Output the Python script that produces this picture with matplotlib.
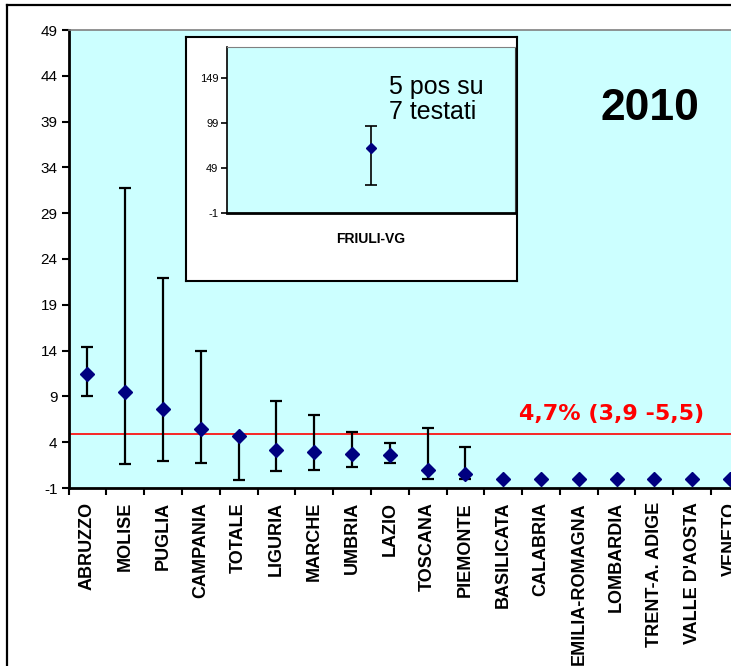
import matplotlib
matplotlib.use('Agg')
import matplotlib.pyplot as plt
from matplotlib.lines import Line2D

plt.rcParams['font.family'] = ['Liberation Sans', 'DejaVu Sans']
plt.rcParams['axes.unicode_minus'] = False

# data
regions = ['ABRUZZO', 'MOLISE', 'PUGLIA', 'CAMPANIA', 'TOTALE', 'LIGURIA',
           'MARCHE', 'UMBRIA', 'LAZIO', 'TOSCANA', 'PIEMONTE', 'BASILICATA',
           'CALABRIA', 'EMILIA-ROMAGNA', 'LOMBARDIA', 'TRENT-A. ADIGE',
           "VALLE D'AOSTA", 'VENETO']
prev = [11.5, 9.5, 7.6, 5.4, 4.7, 3.2, 2.9, 2.7, 2.6, 1.0, 0.5,
        0, 0, 0, 0, 0, 0, 0]
ci_low = [9.0, 1.6, 2.0, 1.7, -0.1, 0.9, 1.0, 1.3, 1.7, 0.0, 0.0,
          0, 0, 0, 0, 0, 0, 0]
ci_high = [14.4, 31.8, 21.9, 14.0, 4.7, 8.5, 7.0, 5.1, 3.9, 5.6, 3.5,
           0, 0, 0, 0, 0, 0, 0]
y_ticks = [-1, 4, 9, 14, 19, 24, 29, 34, 39, 44, 49]
total_line = 4.85
total_label = '4,7% (3,9 -5,5)'

inset_region = ['FRIULI-VG']
inset_prev = [71.4]
inset_low = [29.8]
inset_high = [95.0]
inset_ticks = [-1, 49, 99, 149]

W, H = 731, 666
BG = '#CCFFFF'
NAVY = '#000080'


def px(x, y):
    return x / W, 1 - y / H


def rect(x0, y0, x1, y1):
    return [x0 / W, 1 - y1 / H, (x1 - x0) / W, (y1 - y0) / H]


fig = plt.figure(figsize=(W / 100, H / 100), dpi=100)

# outer frame (cut on right and bottom)
fig.add_artist(Line2D([7 / W, 1], [1 - 5 / H] * 2, color='black', lw=1.6,
                      transform=fig.transFigure))
fig.add_artist(Line2D([7 / W] * 2, [0, 1 - 5 / H], color='black', lw=1.6,
                      transform=fig.transFigure))

n_vis = len(regions)
step = 37.8
ax = fig.add_axes(rect(68.5, 30, 68.5 + step * n_vis, 488))
ax.set_facecolor(BG)
xs = list(range(len(regions)))

idx = [i for i in xs if ci_high[i] > ci_low[i]]
ax.errorbar([xs[i] for i in idx], [prev[i] for i in idx],
            yerr=[[prev[i] - ci_low[i] for i in idx],
                  [ci_high[i] - prev[i] for i in idx]],
            fmt='none', ecolor='black', elinewidth=1.6, capsize=4,
            capthick=1.6, zorder=3)
ax.plot(xs, prev, linestyle='none', marker='D', markersize=7,
        color=NAVY, zorder=4)
ax.axhline(total_line, color='red', lw=1.2, zorder=2)

ax.set_xlim(-0.5, n_vis - 0.5)
ax.set_ylim(-1, 49)
ax.set_yticks(y_ticks)
ax.set_xticks([i + 0.5 for i in range(-1, n_vis)], minor=False)
ax.set_xticklabels([])
ax.set_xticks(xs, minor=True)
ax.set_xticklabels(regions, minor=True, rotation=90, fontweight='bold',
                   fontsize=13)
ax.tick_params(axis='x', which='minor', length=0, pad=10)
ax.tick_params(axis='x', which='major', length=5, width=1.5, direction='out')
ax.tick_params(axis='y', length=5, width=1.5, labelsize=11, pad=3)
for s in ['left', 'bottom']:
    ax.spines[s].set_linewidth(2)
ax.spines['top'].set_color('#808080')
ax.spines['top'].set_linewidth(1.2)
ax.spines['right'].set_visible(False)

fig.text(*px(612, 414), total_label, color='red', fontsize=16,
         fontweight='bold', family='DejaVu Sans', ha='center', va='center')
fig.text(*px(650, 108), '2010', fontsize=32, fontweight='bold',
         ha='center', va='center')

# inset box
box = fig.add_axes(rect(186, 37, 516.5, 281.5))
box.set_facecolor('white')
box.set_xticks([])
box.set_yticks([])
for s in box.spines.values():
    s.set_linewidth(1.5)
    s.set_color('black')
box.set_zorder(5)

ins = fig.add_axes(rect(226.7, 46.7, 515, 212.7))
ins.set_zorder(6)
ins.set_facecolor(BG)
ins.errorbar([0], inset_prev,
             yerr=[[inset_prev[0] - inset_low[0]],
                   [inset_high[0] - inset_prev[0]]],
             fmt='none', ecolor='black', elinewidth=1.2, capsize=4,
             capthick=1.2)
ins.plot([0], inset_prev, linestyle='none', marker='D', markersize=5,
         color=NAVY, zorder=4)
ins.set_xlim(-0.5, 0.5)
ins.set_ylim(-1, 183.4)
ins.set_yticks(inset_ticks)
ins.tick_params(axis='y', labelsize=8, length=4, width=1.2, pad=2)
ins.set_xticks([0])
ins.set_xticklabels(inset_region, fontweight='bold', fontsize=10)
ins.tick_params(axis='x', length=0, pad=14)
ins.spines['left'].set_linewidth(1.2)
ins.spines['bottom'].set_linewidth(2)
ins.spines['top'].set_color('#808080')
ins.spines['right'].set_color('#404040')

fig.text(*px(389, 75), '5 pos su\n7 testati', fontsize=18, ha='left',
         va='top', linespacing=1.05, zorder=10)

fig.savefig('out.png', dpi=100)
